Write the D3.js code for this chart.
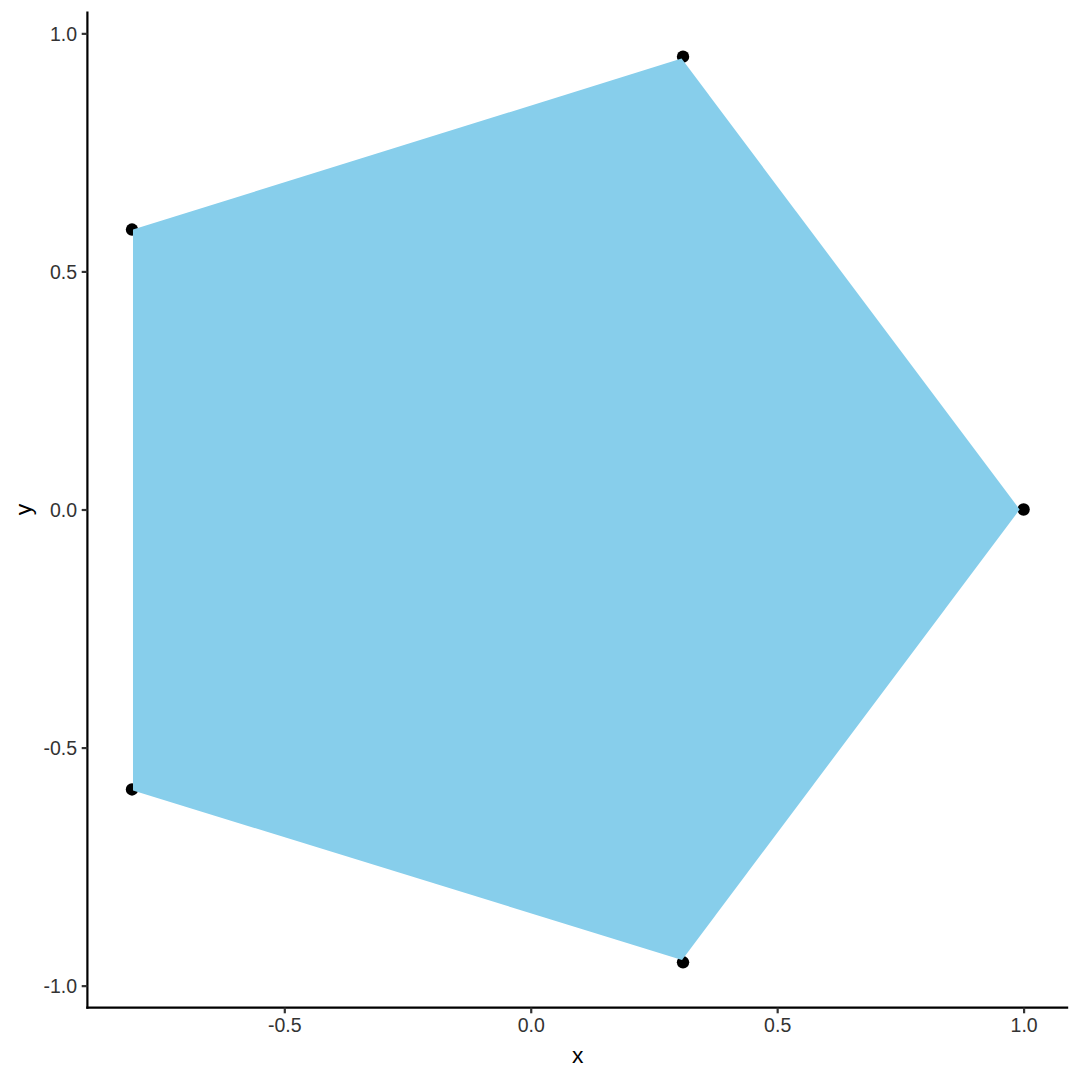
<!DOCTYPE html>
<html>
<head>
<meta charset="utf-8">
<script src="https://cdn.jsdelivr.net/npm/d3@7"></script>
<style>
  body { margin: 0; background: #fff; }
  svg text { font-family: "Liberation Sans", Arial, sans-serif; }
</style>
</head>
<body>
<svg id="chart"></svg>
<script>
// pentagon vertices (points)
const pointX = [1.0, 0.309, -0.809, -0.809, 0.309];
const pointY = [0.0, 0.951, 0.588, -0.588, -0.951];
// filled polygon (slightly inside the points on the right)
const polyX = [0.992, 0.306, -0.807, -0.807, 0.307];
const polyY = [0.0, 0.947, 0.588, -0.590, -0.946];
const xTicks = [-0.5, 0.0, 0.5, 1.0];
const yTicks = [-1.0, -0.5, 0.0, 0.5, 1.0];

const W = 1080, H = 1080;
const margin = { top: 11.4, right: 11.8, bottom: 72.4, left: 87.4 };
const width = W - margin.left - margin.right;
const height = H - margin.top - margin.bottom;

const svg = d3.select("#chart").attr("width", W).attr("height", H);
const g = svg.append("g").attr("transform", `translate(${margin.left},${margin.top})`);

const x = d3.scaleLinear().domain([-0.8995, 1.0905]).range([0, width]);
const y = d3.scaleLinear().domain([-1.0461, 1.0461]).range([height, 0]);

const points = pointX.map((v, i) => ({ x: v, y: pointY[i] }));
const poly = polyX.map((v, i) => [x(v), y(polyY[i])]);

// hyphen instead of unicode minus, like R
const fmt = d => d3.format(".1f")(d).replace("\u2212", "-");

// points first, polygon drawn on top
g.selectAll(".pt")
  .data(points)
  .join("circle")
  .attr("class", "pt")
  .attr("cx", d => x(d.x))
  .attr("cy", d => y(d.y))
  .attr("r", 6.2)
  .style("fill", "#000");

g.append("polygon")
  .attr("points", poly.map(p => p.join(",")).join(" "))
  .style("fill", "#87CEEB");

// axes
const xAxis = g.append("g")
  .attr("transform", `translate(0,${height})`)
  .call(d3.axisBottom(x).tickValues(xTicks).tickFormat(fmt).tickSizeInner(5.7).tickSizeOuter(0).tickPadding(4.6));
const yAxis = g.append("g")
  .call(d3.axisLeft(y).tickValues(yTicks).tickFormat(fmt).tickSizeInner(5.7).tickSizeOuter(0).tickPadding(4.6));

[xAxis, yAxis].forEach(a => {
  a.select(".domain").attr("stroke", "#000").attr("stroke-width", 2.2);
  a.selectAll(".tick line").attr("stroke", "#333333").attr("stroke-width", 2.2);
  a.selectAll(".tick text").attr("fill", "#333333").style("font-size", "19.5px");
});
xAxis.select(".domain").attr("d", `M${-1.1},0H${width}`);
yAxis.select(".domain").attr("d", `M0,${height + 1.1}V0`);
yAxis.selectAll(".tick text").attr("dy", "0.35em");

// axis titles
svg.append("text")
  .attr("x", margin.left + width / 2)
  .attr("y", 1063)
  .attr("text-anchor", "middle")
  .style("font-size", "22.9px")
  .style("fill", "#000")
  .text("x");

svg.append("text")
  .attr("transform", `translate(31,${margin.top + height / 2}) rotate(-90)`)
  .attr("text-anchor", "middle")
  .style("font-size", "22.9px")
  .style("fill", "#000")
  .text("y");
</script>
</body>
</html>
